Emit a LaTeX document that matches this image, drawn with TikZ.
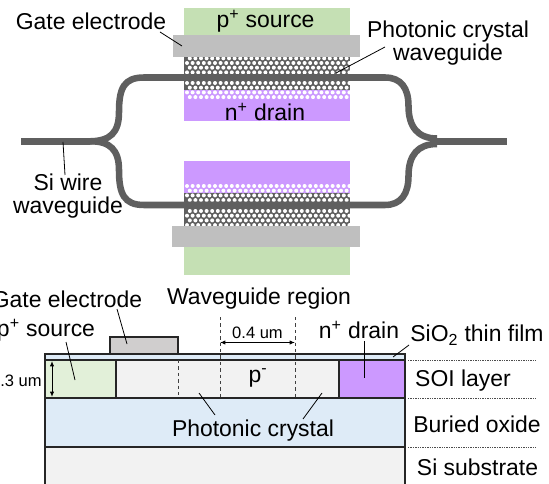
\documentclass[tikz,border=0pt]{standalone}
\usepackage{fontspec}
\setmainfont{Liberation Sans}
\usetikzlibrary{arrows.meta}
\definecolor{wg}{HTML}{5F5F5F}
\definecolor{srcg}{HTML}{C5E0B4}
\definecolor{elec}{HTML}{BFBFBF}
\definecolor{drainp}{HTML}{CC99FF}
\definecolor{pale}{HTML}{F2F2F2}
\definecolor{oxide}{HTML}{DEEBF7}
\definecolor{srcl}{HTML}{E2F0D9}
\definecolor{gatel}{HTML}{D0CECE}
\tikzset{
  lab/.style={inner sep=0pt,font=\fontsize{17.2pt}{17pt}\selectfont,align=center,text=black},
  smalllab/.style={inner sep=0pt,font=\fontsize{12.4pt}{14pt}\selectfont},
  guide/.style={line width=4.9pt,draw=wg,line cap=butt},
  leader/.style={line width=0.6pt,draw=black},
  layer/.style={draw=black!85,line width=0.9pt},
  dotrule/.style={line width=0.6pt,draw=black!70,dash pattern=on 1pt off 0.8pt},
  cutline/.style={line width=0.7pt,draw=black!75,dash pattern=on 2.6pt off 2.2pt},
  dim/.style={line width=0.7pt,draw=black,{Latex[length=4pt,width=3.2pt]}-{Latex[length=4pt,width=3.2pt]}}
}
\newcommand{\holes}[3]{% y-start, number of rows, first-row stagger
  \foreach \r in {1,...,#2}{
    \pgfmathsetmacro{\yy}{#1+(\r-1)*4.7}
    \pgfmathsetmacro{\xs}{187+mod(\r+#3,2)*2.8}
    \foreach \c in {0,...,29}{
      \pgfmathsetmacro{\xx}{\xs+\c*5.6}
      \fill[white] (\xx,\yy) circle (2);
    }
  }
}
\begin{document}
\begin{tikzpicture}[x=0.75pt,y=-0.75pt]
\useasboundingbox (0,0) rectangle (549,484);
% ---------- top view, upper arm
\fill[srcg] (184,8) rectangle (350,36);
\fill[wg] (184,57) rectangle (350,90);
\fill[drainp] (184,90) rectangle (350,121);
\holes{58.3}{4}{0}
\holes{83}{4}{1}
\fill[elec] (173,35) rectangle (360,57);
% ---------- top view, lower arm
\fill[srcg] (184,226) rectangle (350,275);
\fill[drainp] (184,161) rectangle (350,193);
\fill[wg] (184,193) rectangle (350,226);
\holes{186}{4}{1}
\holes{211}{4}{0}
\fill[elec] (172,226) rectangle (360,247);
% ---------- waveguides
\coordinate (inL) at (21,141.3);
\coordinate (splitL) at (90,141.3);
\coordinate (topL) at (144,77.5);
\coordinate (botL) at (144,205);
\coordinate (topR) at (385,77.5);
\coordinate (botR) at (385,205);
\coordinate (splitR) at (437,141.3);
\coordinate (outR) at (507,141.3);
\draw[guide] (inL) -- (splitL);
\draw[guide] (splitL) .. controls (110,141) and (119,133) .. (119,112) .. controls (119,88) and (124,77.5) .. (topL) -- (topR)
  .. controls (401,77.5) and (408.5,88) .. (408.5,106) .. controls (408.5,127) and (418,138.5) .. (437,138.5);
\draw[guide] (splitL) .. controls (110,141) and (119,150) .. (119,170) .. controls (119,194) and (124,205) .. (botL) -- (botR)
  .. controls (401,205) and (408.5,194) .. (408.5,176) .. controls (408.5,155) and (418,144) .. (437,144);
\draw[guide] (splitR) -- (outR);
% ---------- top labels
\node[lab] (srcT) at (265.5,21) {p\textsuperscript{+} source};
\node[lab] (drnT) at (265,112) {n\textsuperscript{+} drain};
\node[lab] (gateT) at (91,21) {Gate electrode};
\node[lab] (pcw) at (448,43) {Photonic crystal\\waveguide};
\node[lab] (siw) at (68,196) {Si wire\\waveguide};
\coordinate (gateTe) at (182,46);
\coordinate (pcwe) at (336,73);
\coordinate (siwe) at (63,142);
\draw[leader] (160,32) -- (gateTe);
\draw[leader] (385,47) -- (pcwe);
\draw[leader] (65,175) -- (siwe);
% ---------- cross section
\fill[pale] (45,447) rectangle (405,484);
\fill[oxide] (45,398) rectangle (405,447);
\fill[oxide] (45,354) rectangle (405,360);
\fill[pale] (116,360) rectangle (339,398);
\fill[srcl] (45,360) rectangle (116,398);
\fill[drainp] (339,360) rectangle (405,398);
\draw[layer,fill=gatel] (110,354) -- (110,337) -- (178,337) -- (178,354);
\node[lab,font=\fontsize{17.2pt}{19pt}\selectfont] (pm) at (258,378) {p\textsuperscript{-}};
\draw[layer] (45,484) -- (45,354) -- (405,354) -- (405,484);
\draw[layer] (45,360) -- (405,360);
\draw[layer] (45,398) -- (405,398);
\draw[layer] (45,447) -- (405,447);
\draw[layer] (116,360) -- (116,398);
\draw[layer] (339,360) -- (339,398);
\coordinate (c1a) at (178,360);
\coordinate (c1b) at (178,398);
\coordinate (c2a) at (220,317);
\coordinate (c2b) at (220,398);
\coordinate (c3a) at (295,317);
\coordinate (c3b) at (295,398);
\draw[cutline] (c1a) -- (c1b);
\draw[cutline] (c2a) -- (c2b);
\draw[cutline] (c3a) -- (c3b);
\draw[dim] (c2a |- 0,342.5) -- node[above=2.5pt,smalllab,inner sep=0pt] (w04) {0.4 um} (c3a |- 0,342.5);
\coordinate (d1) at (52,361);
\coordinate (d2) at (52,397);
\draw[dim] (d1) -- (d2);
\node[smalllab,anchor=east] (h03) at (42,381) {0.3 um};
\node[lab] (gateC) at (67,299) {Gate electrode};
\node[lab] (wreg) at (259,299) {Waveguide region};
\node[lab] (srcC) at (46,330) {p\textsuperscript{+} source};
\node[lab] (drnC) at (359,330) {n\textsuperscript{+} drain};
\node[lab] (sio) at (477,335) {SiO\textsubscript{2} thin film};
\node[lab] (soi) at (463,381) {SOI layer};
\node[lab] (box) at (477,424) {Buried oxide};
\node[lab] (sub) at (477.5,467) {Si substrate};
\node[lab] (pc) at (253,431) {Photonic crystal};
\draw[leader] (117,309) -- (127,344);
\draw[leader] (66,342) -- (75,380);
\draw[leader] (364,341) -- (364,378);
\draw[leader] (409,345) -- (393,357);
\draw[leader] (199,393) -- (215,415);
\draw[leader] (322,393) -- (303,419);
\draw[dotrule] (408,360) -- (536,360);
\draw[dotrule] (408,398) -- (536,398);
\draw[dotrule] (408,447) -- (536,447);
\end{tikzpicture}
\end{document}
